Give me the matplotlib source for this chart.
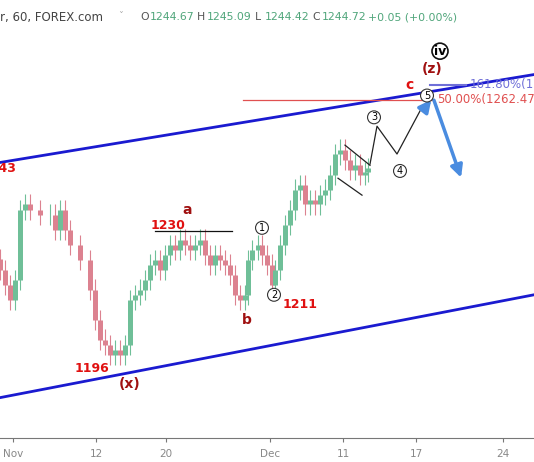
import matplotlib
matplotlib.use("Agg")
import matplotlib.pyplot as plt

# candle positions (bar slot) and closes
bar_x = [0, 5, 10, 15, 20, 25, 30, 40, 50, 55, 60, 65, 70, 80, 90, 95, 100, 105, 110, 115,
         120, 125, 130, 135, 140, 145, 150, 155, 160, 165, 170, 175, 180, 185, 190, 195, 200,
         205, 210, 215, 220, 225, 230, 235, 240, 245, 248, 252, 258, 262, 267, 272, 275, 280,
         285, 290, 295, 300, 305, 310, 315, 320, 325, 330, 335, 340, 345, 350, 355, 360, 365, 368]
closes = [1220.3, 1216.6, 1212.9, 1217.8, 1235.2, 1236.5, 1235.2, 1234.0, 1234.0, 1230.2,
          1235.2, 1230.2, 1226.5, 1222.8, 1215.4, 1207.9, 1203.0, 1201.7, 1199.2, 1200.5,
          1199.2, 1201.7, 1212.9, 1214.1, 1215.4, 1217.8, 1221.6, 1222.8, 1220.3, 1224.0,
          1226.5, 1225.3, 1227.8, 1226.5, 1225.3, 1226.5, 1227.8, 1224.0, 1221.6, 1224.0,
          1222.8, 1221.6, 1219.1, 1214.1, 1212.9, 1214.1, 1222.8, 1225.3, 1226.5, 1224.0,
          1221.6, 1216.6, 1220.3, 1226.5, 1231.5, 1235.2, 1240.2, 1241.4, 1236.5, 1237.7,
          1236.5, 1238.9, 1240.2, 1243.9, 1248.9, 1250.1, 1247.6, 1245.1, 1246.4, 1243.9,
          1244.6, 1245.6]
first_open = 1223.0

tick_pos = [13, 96, 166, 270, 343, 416, 503]
tick_labels = ["Nov", "12", "20", "Dec", "11", "17", "24"]

upper_channel = ([0, 534], [1246.9, 1268.7])
lower_channel = ([0, 534], [1188.6, 1214.1])
wave_x = [370, 377, 397, 422]
wave_y = [1246.5, 1255.9, 1249.0, 1260.6]
fib_50 = 1262.47
fib_161 = 1266.2

GREEN, RED = "#6fbf98", "#dc8290"

fig = plt.figure(figsize=(5.34, 4.62), dpi=100)
ax = fig.add_axes([0, 0.052, 1, 0.894])
ax.set_xlim(0, 534)
ax.set_ylim(1178.6, 1281)

# candles
prev = first_open
for x, c in zip(bar_x, closes):
    col = GREEN if c >= prev else RED
    lo, hi = min(prev, c), max(prev, c)
    ax.vlines(x, lo - 2.5, hi + 2.5, color=col, lw=0.8)
    ax.vlines(x, lo, hi, color=col, lw=3.6)
    prev = c

# channel
ax.plot(*upper_channel, color="#1a1ad0", lw=2)
ax.plot(*lower_channel, color="#1a1ad0", lw=2)

# fib lines
ax.plot([243, 432], [fib_50, fib_50], color="#e05050", lw=0.9)
ax.text(437, fib_50, "50.00%(1262.47)", color="#e05050", fontsize=8.5, va="center")
ax.plot([430, 466], [fib_161, fib_161], color="#6f6fd8", lw=1.5)
ax.text(470, fib_161, "161.80%(12", color="#6f6fd8", fontsize=8.5, va="center")

# wave path and small channel
ax.plot(wave_x, wave_y, color="#222", lw=0.9)
ax.plot([345, 370], [1251.2, 1246.2], color="#222", lw=0.9)
ax.plot([338, 362], [1243.0, 1238.8], color="#222", lw=0.9)
ax.plot([155, 232], [1230, 1230], color="#111", lw=0.9)

# blue arrows
ax.annotate("", xy=(433, 1263), xytext=(422, 1259.5),
            arrowprops=dict(arrowstyle="-|>", color="#4a8ce0", lw=2.5, mutation_scale=18))
ax.annotate("", xy=(462, 1242.5), xytext=(433, 1263),
            arrowprops=dict(arrowstyle="-|>", color="#4a8ce0", lw=2.5, mutation_scale=18))

# labels
red = "#e01010"
dred = "#a01010"
ax.text(16, 1245.4, "1243", color=red, fontsize=9, fontweight="bold", ha="right", va="center")
ax.text(187, 1235.0, "a", color=dred, fontsize=10, fontweight="bold", ha="center", va="center")
ax.text(168, 1231.4, "1230", color=red, fontsize=9, fontweight="bold", ha="center", va="center")
ax.text(247, 1207.9, "b", color=dred, fontsize=10, fontweight="bold", ha="center", va="center")
ax.text(300, 1211.6, "1211", color=red, fontsize=9, fontweight="bold", ha="center", va="center")
ax.text(92, 1195.8, "1196", color=red, fontsize=9, fontweight="bold", ha="center", va="center")
ax.text(130, 1191.9, "(x)", color=dred, fontsize=10, fontweight="bold", ha="center", va="center")
ax.text(410, 1266.2, "c", color=red, fontsize=10, fontweight="bold", ha="center", va="center")
ax.text(432, 1270.0, "(z)", color=dred, fontsize=10, fontweight="bold", ha="center", va="center")
circ = dict(boxstyle="circle,pad=0.15", fc="white", ec="#333", lw=0.8)
for x, y, t in [(262, 1230.7, "1"), (274, 1214.1, "2"), (374, 1258.1, "3"),
                (400, 1244.8, "4"), (427, 1263.5, "5")]:
    ax.text(x, y, t, fontsize=7, ha="center", va="center", bbox=circ)
ax.text(440, 1274.5, "iv", fontsize=9, fontweight="bold", ha="center", va="center",
        bbox=dict(boxstyle="circle,pad=0.12", fc="white", ec="#111", lw=1.2))

# axis styling
for s in ["top", "left", "right"]:
    ax.spines[s].set_visible(False)
ax.spines["bottom"].set_color("#777")
ax.set_yticks([])
ax.set_xticks(tick_pos)
ax.set_xticklabels(tick_labels, color="#888", fontsize=7.5)
ax.tick_params(axis="x", length=3, color="#777", pad=5)

# header
hy = 1 - 17 / 462
fig.text(0.0, hy, "r, 60, FOREX.com", fontsize=8.5, color="#444", va="center")
fig.text(0.222, hy, "ˇ", fontsize=7, color="#aaa", va="center")
hx = 0.262
for lab, val in [("O", "1244.67"), ("H", "1245.09"), ("L", "1244.42"), ("C", "1244.72")]:
    fig.text(hx, hy, lab, fontsize=7.8, color="#555", va="center")
    fig.text(hx + 0.018, hy, val, fontsize=7.8, color="#4fa57a", va="center")
    hx += 0.1075
fig.text(hx - 0.003, hy, "+0.05 (+0.00%)", fontsize=7.8, color="#4fa57a", va="center")

fig.savefig("out.png", dpi=100)
